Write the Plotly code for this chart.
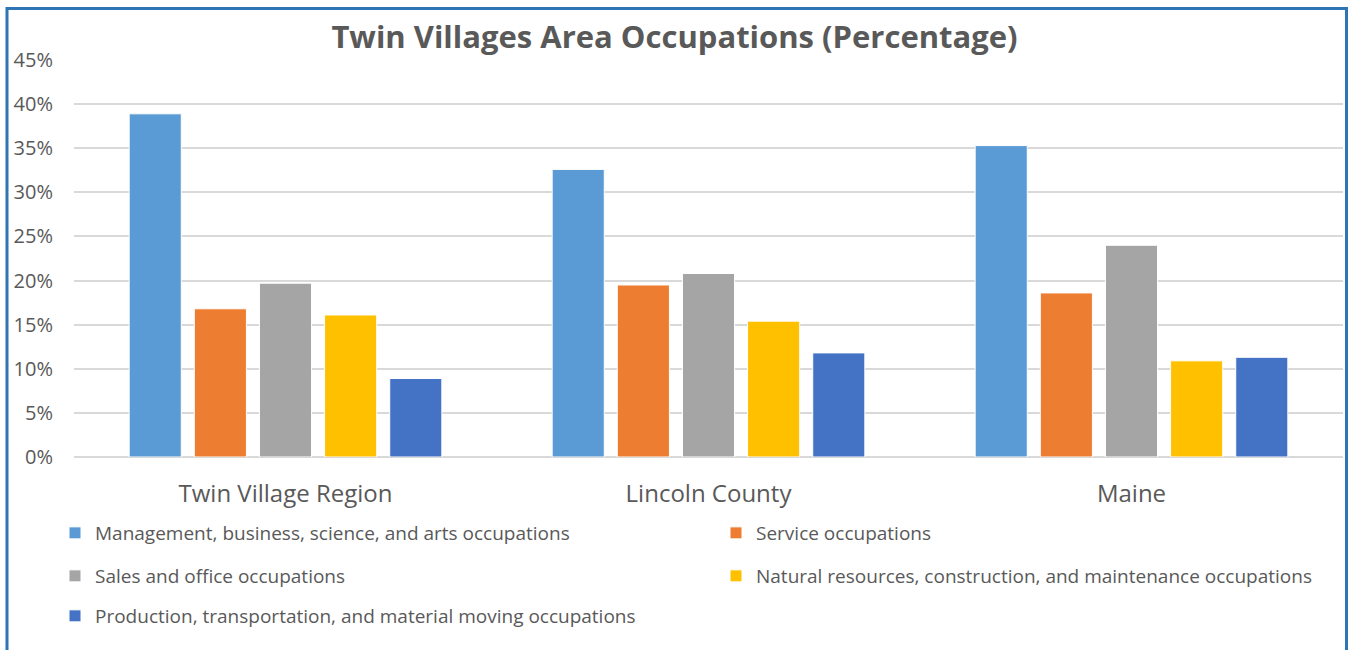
"""Twin Villages area occupations, grouped bars by region."""

import plotly.graph_objects as go

REGIONS = ["Twin Village Region", "Lincoln County", "Maine"]

OCCUPATIONS = [
    "Management, business, science, and arts occupations",
    "Service occupations",
    "Sales and office occupations",
    "Natural resources, construction, and maintenance occupations",
    "Production, transportation, and material moving occupations",
]

# percent of employed population, per region
MANAGEMENT = [38.9, 32.6, 35.3]
SERVICE = [16.8, 19.5, 18.6]
SALES_OFFICE = [19.7, 20.8, 24.0]
NATURAL_RES = [16.1, 15.4, 10.9]
PRODUCTION = [8.9, 11.8, 11.3]

COLORS = ["#5B9BD5", "#ED7D31", "#A5A5A5", "#FFC000", "#4472C4"]

W, H = 1349, 650
M_L, M_R, M_T, M_B = 74, 6, 60, 193
PLOT_W = W - M_L - M_R
PLOT_H = H - M_T - M_B
TEXT = "#595959"


def px_x(x):
    return (x - M_L) / PLOT_W


def px_y(y):
    return (H - M_B - y) / PLOT_H


series = [MANAGEMENT, SERVICE, SALES_OFFICE, NATURAL_RES, PRODUCTION]
# legend slots: (left px of legend box, centre y px)
legend_slots = [(55, 533), (716, 533), (55, 576), (716, 576), (55, 616)]

fig = go.Figure()
layout_legends = {}
for i, (name, vals, color) in enumerate(zip(OCCUPATIONS, series, COLORS)):
    key = "legend" if i == 0 else f"legend{i + 1}"
    fig.add_bar(
        x=REGIONS,
        y=vals,
        name=name,
        marker=dict(color=color, line=dict(color="white", width=1)),
        legend=key,
    )
    lx, ly = legend_slots[i]
    layout_legends[key] = dict(
        x=px_x(lx),
        y=px_y(ly),
        xanchor="left",
        yanchor="middle",
        bgcolor="rgba(0,0,0,0)",
        font=dict(family="Open Sans", size=19, color=TEXT),
    )

fig.update_layout(
    width=W,
    height=H,
    margin=dict(l=M_L, r=M_R, t=M_T, b=M_B),
    paper_bgcolor="white",
    plot_bgcolor="white",
    barmode="group",
    bargap=0.23,
    bargroupgap=0.2,
    title=dict(
        text="<b>Twin Villages Area Occupations (Percentage)</b>",
        x=0.5,
        xanchor="center",
        y=1 - 37 / H,
        yanchor="middle",
        yref="container",
        font=dict(family="Open Sans", size=31, color=TEXT),
    ),
    yaxis=dict(
        range=[0, 45],
        dtick=5,
        ticksuffix="%",
        gridcolor="#D9D9D9",
        gridwidth=1.5,
        zeroline=True,
        zerolinecolor="#D9D9D9",
        zerolinewidth=1.5,
        showline=False,
        ticklabelstandoff=20,
        tickfont=dict(family="Open Sans", size=20, color=TEXT),
    ),
    xaxis=dict(
        showline=False,
        ticks="",
        tickfont=dict(family="Open Sans", size=24, color=TEXT),
        ticklabelstandoff=20,
    ),
    showlegend=True,
    shapes=[
        dict(
            type="rect",
            xref="paper",
            yref="paper",
            x0=px_x(7),
            x1=px_x(1346.5),
            y0=px_y(662),
            y1=px_y(8.5),
            line=dict(color="#2E75B6", width=3),
            layer="above",
        )
    ],
    **layout_legends,
)

fig.write_html(
    "out.html",
    config={"displayModeBar": False},
    post_script="document.body.style.margin='0';",
)
